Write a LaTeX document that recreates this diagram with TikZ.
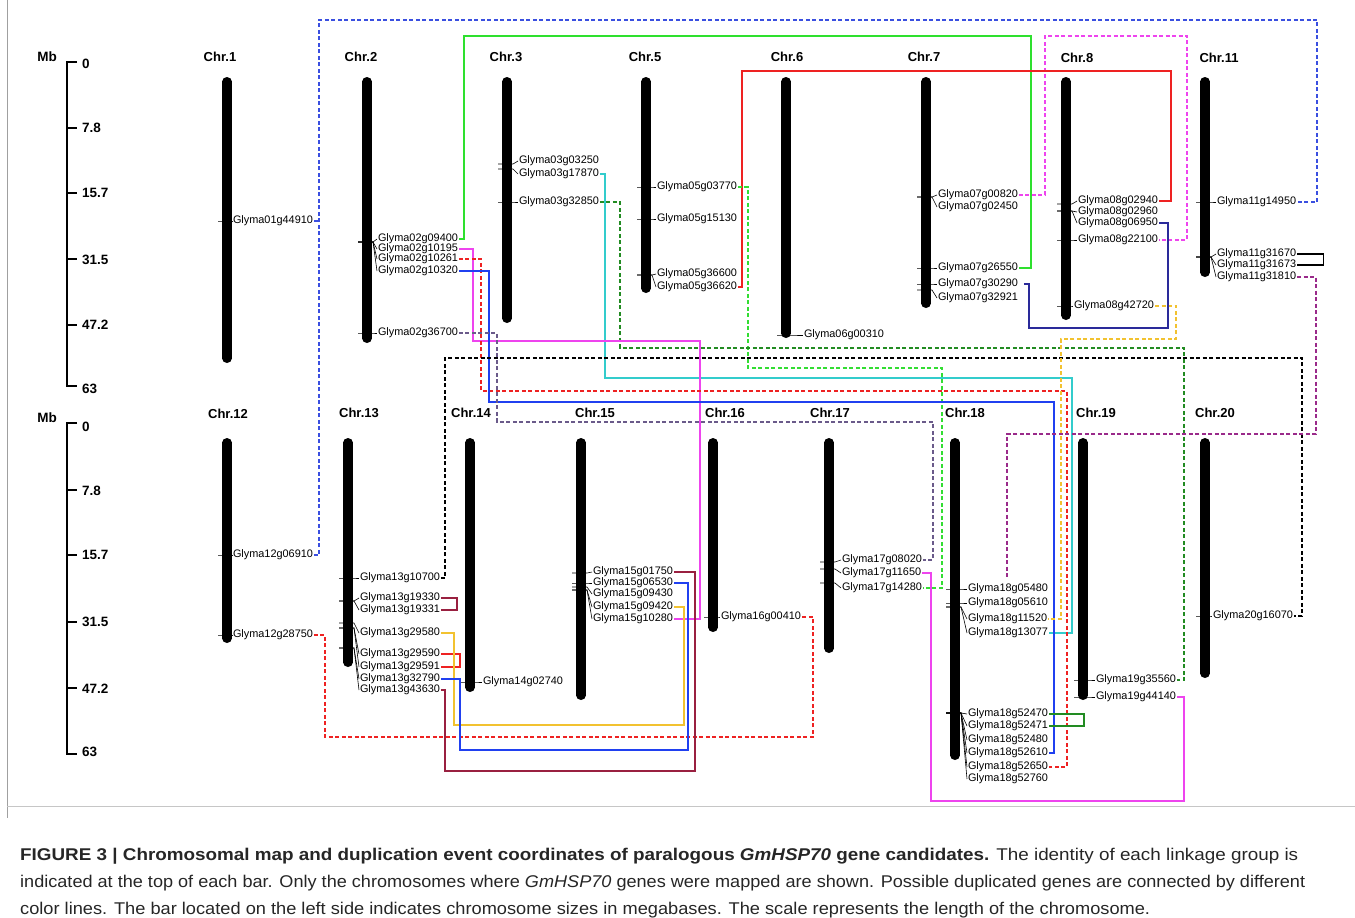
\documentclass[tikz,border=0pt]{standalone}
\usepackage{fontspec}
\setmainfont{Liberation Sans}
\usepackage{graphicx}
\definecolor{cblue}{HTML}{3A4FE0}
\definecolor{cgreen}{HTML}{2EE02E}
\definecolor{cmag}{HTML}{EE44EE}
\definecolor{cred}{HTML}{EE2222}
\definecolor{clgreen}{HTML}{33DD33}
\definecolor{cdgreen}{HTML}{228B22}
\definecolor{ccyan}{HTML}{33CCCC}
\definecolor{cbl}{HTML}{2040F0}
\definecolor{cpg}{HTML}{6A5A8A}
\definecolor{cgold}{HTML}{F2C230}
\definecolor{cnavy}{HTML}{2A2A9A}
\definecolor{cpur}{HTML}{9A2A8A}
\definecolor{cdred}{HTML}{992040}
\definecolor{capcol}{HTML}{262626}
\definecolor{framecol}{HTML}{A0A0A0}
\newcommand\mkgene[6]{%
  \node[gl] (#1) at (#4,#5) {Glyma#6};
  \draw[lead] ({#2-9},#3) -- ({#2+6},#3) -- (#1.west);}
\newcommand\mkbar[3]{\draw[chrbar] (#1,{#2+4.75}) -- (#1,{#3-4.75});}
\begin{document}
\begin{tikzpicture}[x=1pt,y=-1pt,
  chrbar/.style={line width=9.5pt,line cap=round,black},
  gl/.style={font=\fontsize{10.9}{12}\selectfont,inner xsep=0.8pt,inner ysep=0pt,anchor=west,text height=7.6pt,text depth=2.3pt},
  lead/.style={line width=0.6pt,black},
  chrlbl/.style={font=\bfseries\fontsize{13}{15}\selectfont,inner sep=0pt},
  scl/.style={font=\bfseries\fontsize{13.5}{15}\selectfont,inner sep=0pt,anchor=west},
  conn/.style={line width=1.3pt},
  dsh/.style={dash pattern=on 4pt off 2.5pt},
  capl/.style={anchor=base west,inner sep=0pt,font=\fontsize{17}{19}\selectfont,text=capcol}]
\useasboundingbox (0,0) rectangle (1355,918);
% frame
\draw[framecol,line width=1pt] (7,0) -- (7,818);
\draw[framecol!60,line width=0.8pt] (7,806) -- (1355,806);
% scale bars
\draw[line width=1.3pt] (77,62) -- (67,62) -- (67,386) -- (77,386);
\foreach \y in {128,193,259,325} \draw[line width=1.3pt] (67,\y) -- (77,\y);
\node[scl,anchor=east] (mb1) at (57,57) {Mb};
\node[scl] (s10) at (82,64) {0};
\node[scl] (s11) at (82,128) {7.8};
\node[scl] (s12) at (82,193) {15.7};
\node[scl] (s13) at (82,260) {31.5};
\node[scl] (s14) at (82,325) {47.2};
\node[scl] (s15) at (82,389) {63};
\draw[line width=1.3pt] (77,423) -- (67,423) -- (67,754) -- (77,754);
\foreach \y in {490,555,622,688} \draw[line width=1.3pt] (67,\y) -- (77,\y);
\node[scl,anchor=east] (mb2) at (57,418) {Mb};
\node[scl] (s20) at (82,427) {0};
\node[scl] (s21) at (82,491) {7.8};
\node[scl] (s22) at (82,555) {15.7};
\node[scl] (s23) at (82,622) {31.5};
\node[scl] (s24) at (82,689) {47.2};
\node[scl] (s25) at (82,752) {63};
% chromosome labels
\node[chrlbl] (c1) at (220,57) {Chr.1};
\node[chrlbl] (c2) at (361,57) {Chr.2};
\node[chrlbl] (c3) at (506,57) {Chr.3};
\node[chrlbl] (c5) at (645,57) {Chr.5};
\node[chrlbl] (c6) at (787,57) {Chr.6};
\node[chrlbl] (c7) at (924,57) {Chr.7};
\node[chrlbl] (c8) at (1077,58) {Chr.8};
\node[chrlbl] (c11) at (1219,58) {Chr.11};
\node[chrlbl] (c12) at (228,414) {Chr.12};
\node[chrlbl] (c13) at (359,413) {Chr.13};
\node[chrlbl] (c14) at (471,413) {Chr.14};
\node[chrlbl] (c15) at (595,413) {Chr.15};
\node[chrlbl] (c16) at (725,413) {Chr.16};
\node[chrlbl] (c17) at (830,413) {Chr.17};
\node[chrlbl] (c18) at (965,413) {Chr.18};
\node[chrlbl] (c19) at (1096,413) {Chr.19};
\node[chrlbl] (c20) at (1215,413) {Chr.20};
% bars
\mkbar{227}{77}{363}
\mkbar{367}{77}{343}
\mkbar{507}{77}{323}
\mkbar{646}{77}{293}
\mkbar{786}{77}{338}
\mkbar{926}{77}{308}
\mkbar{1066}{77}{320}
\mkbar{1205}{77}{277}
\mkbar{227}{438}{643}
\mkbar{348}{438}{667}
\mkbar{470}{438}{692}
\mkbar{581}{438}{700}
\mkbar{713}{438}{632}
\mkbar{829}{438}{653}
\mkbar{955}{438}{760}
\mkbar{1083}{438}{700}
\mkbar{1205}{438}{678}
% genes
\mkgene{g01a}{227}{221}{232}{221}{01g44910}
\mkgene{g02a}{367}{242}{377}{239}{02g09400}
\mkgene{g02b}{367}{242}{377}{249}{02g10195}
\mkgene{g02c}{367}{242}{377}{259}{02g10261}
\mkgene{g02d}{367}{242}{377}{271}{02g10320}
\mkgene{g02e}{367}{333}{377}{333}{02g36700}
\mkgene{g03a}{507}{164}{518}{161}{03g03250}
\mkgene{g03b}{507}{169}{518}{174}{03g17870}
\mkgene{g03c}{507}{202}{518}{202}{03g32850}
\mkgene{g05a}{646}{187}{656}{187}{05g03770}
\mkgene{g05b}{646}{219}{656}{219}{05g15130}
\mkgene{g05c}{646}{275}{656}{274}{05g36600}
\mkgene{g05d}{646}{275}{656}{287}{05g36620}
\mkgene{g06a}{786}{335}{803}{335}{06g00310}
\mkgene{g07a}{926}{197}{937}{195}{07g00820}
\mkgene{g07b}{926}{197}{937}{207}{07g02450}
\mkgene{g07c}{926}{268}{937}{268}{07g26550}
\mkgene{g07d}{926}{284}{937}{284}{07g30290}
\mkgene{g07e}{926}{290}{937}{298}{07g32921}
\mkgene{g08a}{1066}{204}{1077}{201}{08g02940}
\mkgene{g08b}{1066}{211}{1077}{212}{08g02960}
\mkgene{g08c}{1066}{211}{1077}{223}{08g06950}
\mkgene{g08d}{1066}{240}{1077}{240}{08g22100}
\mkgene{g08e}{1066}{306}{1073}{306}{08g42720}
\mkgene{g11a}{1205}{202}{1216}{202}{11g14950}
\mkgene{g11b}{1205}{257}{1216}{254}{11g31670}
\mkgene{g11c}{1205}{257}{1216}{265}{11g31673}
\mkgene{g11d}{1205}{257}{1216}{277}{11g31810}
\mkgene{g12a}{227}{555}{232}{555}{12g06910}
\mkgene{g12b}{227}{635}{232}{635}{12g28750}
\mkgene{g13a}{348}{578}{359}{578}{13g10700}
\mkgene{g13b}{348}{601}{359}{598}{13g19330}
\mkgene{g13c}{348}{601}{359}{610}{13g19331}
\mkgene{g13d}{348}{623}{359}{633}{13g29580}
\mkgene{g13e}{348}{628}{359}{654}{13g29590}
\mkgene{g13f}{348}{628}{359}{667}{13g29591}
\mkgene{g13g}{348}{648}{359}{679}{13g32790}
\mkgene{g13h}{348}{648}{359}{690}{13g43630}
\mkgene{g14a}{470}{682}{482}{682}{14g02740}
\mkgene{g15a}{581}{573}{592}{572}{15g01750}
\mkgene{g15b}{581}{583}{592}{583}{15g06530}
\mkgene{g15c}{581}{587}{592}{594}{15g09430}
\mkgene{g15d}{581}{590}{592}{607}{15g09420}
\mkgene{g15e}{581}{590}{592}{619}{15g10280}
\mkgene{g16a}{713}{617}{720}{617}{16g00410}
\mkgene{g17a}{829}{562}{841}{560}{17g08020}
\mkgene{g17b}{829}{569}{841}{573}{17g11650}
\mkgene{g17c}{829}{583}{841}{588}{17g14280}
\mkgene{g18a}{955}{589}{967}{589}{18g05480}
\mkgene{g18b}{955}{603}{967}{603}{18g05610}
\mkgene{g18c}{955}{607}{967}{619}{18g11520}
\mkgene{g18d}{955}{607}{967}{633}{18g13077}
\mkgene{g18e}{955}{713}{967}{714}{18g52470}
\mkgene{g18f}{955}{713}{967}{726}{18g52471}
\mkgene{g18g}{955}{713}{967}{740}{18g52480}
\mkgene{g18h}{955}{713}{967}{753}{18g52610}
\mkgene{g18i}{955}{713}{967}{767}{18g52650}
\mkgene{g18j}{955}{713}{967}{779}{18g52760}
\mkgene{g19a}{1083}{680}{1095}{680}{19g35560}
\mkgene{g19b}{1083}{697}{1095}{697}{19g44140}
\mkgene{g20a}{1205}{616}{1212}{616}{20g16070}
% connectors
\coordinate (jb) at (319,221);
\coordinate (jp) at (1007,578);
\draw[conn,cblue,dsh] (g12a.east) -| (319,20) -- (1317,20) |- (g11a.east);
\draw[conn,cblue,dsh] (g01a.east) -- (jb);
\draw[conn,cgreen] (g02a.east) -| (464,36) -- (1031,36) |- (g07c.east);
\draw[conn,cmag,dsh] (g07a.east) -| (1045,36) -- (1187,36) |- (g08d.east);
\draw[conn,cred] (g05d.east) -| (742,71) -- (1171,71) |- (g08a.east);
\draw[conn,clgreen,dsh] (g05a.east) -| (748,368) -- (942,368) |- (g17c.east);
\draw[conn,cdgreen,dsh] (g03c.east) -| (620,348) -- (1184,348) |- (g19a.east);
\draw[conn,ccyan] (g03b.east) -| (605,378) -- (1072,378) |- (g18d.east);
\draw[conn,cmag] (g02b.east) -| (473,341) -- (700,341) |- (g15e.east);
\draw[conn,cred,dsh] (g02c.east) -| (481,391) -- (1067,391) |- (g18i.east);
\draw[conn,cbl] (g02d.east) -| (489,402) -- (1054,402) |- (g18h.east);
\draw[conn,cpg,dsh] (g02e.east) -| (497,422) -- (933,422) |- (g17a.east);
\draw[conn,black,dsh] (g13a.east) -| (445,358) -- (1302,358) |- (g20a.east);
\draw[conn,cgold,dsh] (g08e.east) -| (1176,339) -- (1061,339) |- (g18c.east);
\draw[conn,cnavy] ([xshift=5pt]g07d.east) -| (1029,328) -- (1168,328) |- (g08c.east);
\draw[conn,black] (g11b.east) -- ++(26,0) |- (g11c.east);
\draw[conn,cpur,dsh] (g11d.east) -| (1316,434) -- (1007,434) -- (jp);
\draw[conn,cdred] (g13b.east) -- ++(16,0) |- (g13c.east);
\draw[conn,cred] (g13e.east) -- ++(19,0) |- (g13f.east);
\draw[conn,cgold] (g13d.east) -| (454,725) -- (684,725) |- (g15d.east);
\draw[conn,cred,dsh] (g12b.east) -| (325,737) -- (813,737) |- (g16a.east);
\draw[conn,cbl] (g13g.east) -| (460,750) -- (688,750) |- (g15b.east);
\draw[conn,cdred] (g13h.east) -| (445,771) -- (695,771) |- (g15a.east);
\draw[conn,cmag] (g17b.east) -| (931,801) -- (1184,801) |- (g19b.east);
\draw[conn,cdgreen] (g18e.east) -- ++(35,0) |- (g18f.east);
% caption
\node[capl] (cap1) at (20,860) {\resizebox{1278pt}{\height}{\textbf{FIGURE 3 | Chromosomal map and duplication event coordinates of paralogous \textit{GmHSP70} gene candidates.} The identity of each linkage group is}};
\node[capl] (cap2) at (20,887) {\resizebox{1285pt}{\height}{indicated at the top of each bar. Only the chromosomes where \textit{GmHSP70} genes were mapped are shown. Possible duplicated genes are connected by different}};
\node[capl] (cap3) at (20,914) {\resizebox{1130pt}{\height}{color lines. The bar located on the left side indicates chromosome sizes in megabases. The scale represents the length of the chromosome.}};
\end{tikzpicture}
\end{document}
